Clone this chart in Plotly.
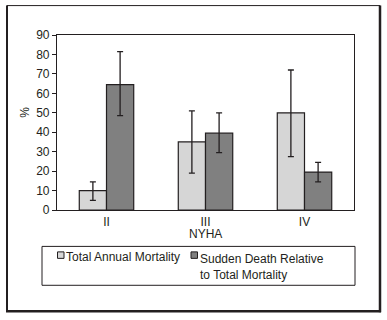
import plotly.graph_objects as go

categories = ["II", "III", "IV"]
total_mortality = [10, 35, 50]
total_err_plus = [4.5, 16, 22]
total_err_minus = [5, 16, 22.5]
sudden_death = [64.5, 39.5, 19.5]
sudden_err_plus = [17, 10.5, 5]
sudden_err_minus = [16, 10, 5]
series_names = ["Total Annual Mortality", "Sudden Death Relative<br>to Total Mortality"]

W, H = 387, 320
L, R, T, B = 57, 354, 35, 210.5
FONT = "Liberation Sans, Arial, Helvetica, sans-serif"
INK = "#231f20"
LIGHT = "#d6d6d6"
DARK = "#808080"


def px(x):
    return (x - L) / (R - L)


def py(y):
    return (B - y) / (B - T)


fig = go.Figure()
fig.add_trace(go.Bar(
    x=categories, y=total_mortality, name=series_names[0],
    marker=dict(color=LIGHT, line=dict(color=INK, width=1.2)),
    error_y=dict(type="data", symmetric=False, array=total_err_plus,
                 arrayminus=total_err_minus, color=INK, thickness=1.3, width=3),
    showlegend=False,
))
fig.add_trace(go.Bar(
    x=categories, y=sudden_death, name=series_names[1],
    marker=dict(color=DARK, line=dict(color=INK, width=1.2)),
    error_y=dict(type="data", symmetric=False, array=sudden_err_plus,
                 arrayminus=sudden_err_minus, color=INK, thickness=1.3, width=3),
    showlegend=False,
))

shapes = []
# outer frame
shapes.append(dict(type="rect", xref="paper", yref="paper",
                   x0=px(7), x1=px(380), y0=py(312), y1=py(5.5),
                   line=dict(color=INK, width=1)))
shapes.append(dict(type="line", xref="paper", yref="paper",
                   x0=px(7), x1=px(7), y0=py(312), y1=py(5.5),
                   line=dict(color=INK, width=2)))
shapes.append(dict(type="line", xref="paper", yref="paper",
                   x0=px(380), x1=px(380), y0=py(313), y1=py(5.5),
                   line=dict(color=INK, width=2.5)))
shapes.append(dict(type="line", xref="paper", yref="paper",
                   x0=px(6), x1=px(381), y0=py(312), y1=py(312),
                   line=dict(color=INK, width=2.5)))
# legend box
shapes.append(dict(type="rect", xref="paper", yref="paper",
                   x0=px(42), x1=px(355), y0=py(286), y1=py(247),
                   line=dict(color=INK, width=1)))
# legend swatches
for x0, col in [(57.5, LIGHT), (191, DARK)]:
    shapes.append(dict(type="rect", xref="paper", yref="paper",
                       x0=px(x0), x1=px(x0 + 6.5), y0=py(259), y1=py(252.5),
                       fillcolor=col, line=dict(color=INK, width=1)))

annotations = [
    dict(text="%", textangle=-90, xref="paper", yref="paper",
         x=px(25), y=py(113), xanchor="center", yanchor="middle", showarrow=False,
         font=dict(family=FONT, size=12, color=INK)),
    dict(text="NYHA", xref="paper", yref="paper",
         x=px(205), y=py(235), xanchor="center", yanchor="middle", showarrow=False,
         font=dict(family=FONT, size=12, color=INK)),
    dict(text=series_names[0], xref="paper", yref="paper",
         x=px(64), y=py(257.5), xanchor="left", yanchor="middle", showarrow=False,
         font=dict(family=FONT, size=12, color=INK)),
    dict(text=series_names[1], xref="paper", yref="paper",
         x=px(198), y=py(250.5), xanchor="left", yanchor="top", showarrow=False,
         align="left",
         font=dict(family=FONT, size=12, color=INK)),
]

fig.update_layout(
    width=W, height=H,
    margin=dict(l=L, r=W - R, t=T, b=H - B, pad=0, autoexpand=False),
    paper_bgcolor="white", plot_bgcolor="white",
    barmode="group", bargap=0.45, bargroupgap=0,
    font=dict(family=FONT, size=12, color=INK),
    shapes=shapes, annotations=annotations,
    xaxis=dict(showline=True, mirror=True, linecolor=INK, linewidth=1.2,
               ticks="", showgrid=False, tickfont=dict(size=12)),
    yaxis=dict(range=[0, 90], dtick=10, showline=True, mirror=True,
               linecolor=INK, linewidth=1.2, ticks="outside", ticklen=4,
               tickcolor=INK, showgrid=False, zeroline=False,
               tickfont=dict(size=12)),
)

fig.write_html("out.html", post_script="document.body.style.margin='0';",
               config={"displayModeBar": False})
